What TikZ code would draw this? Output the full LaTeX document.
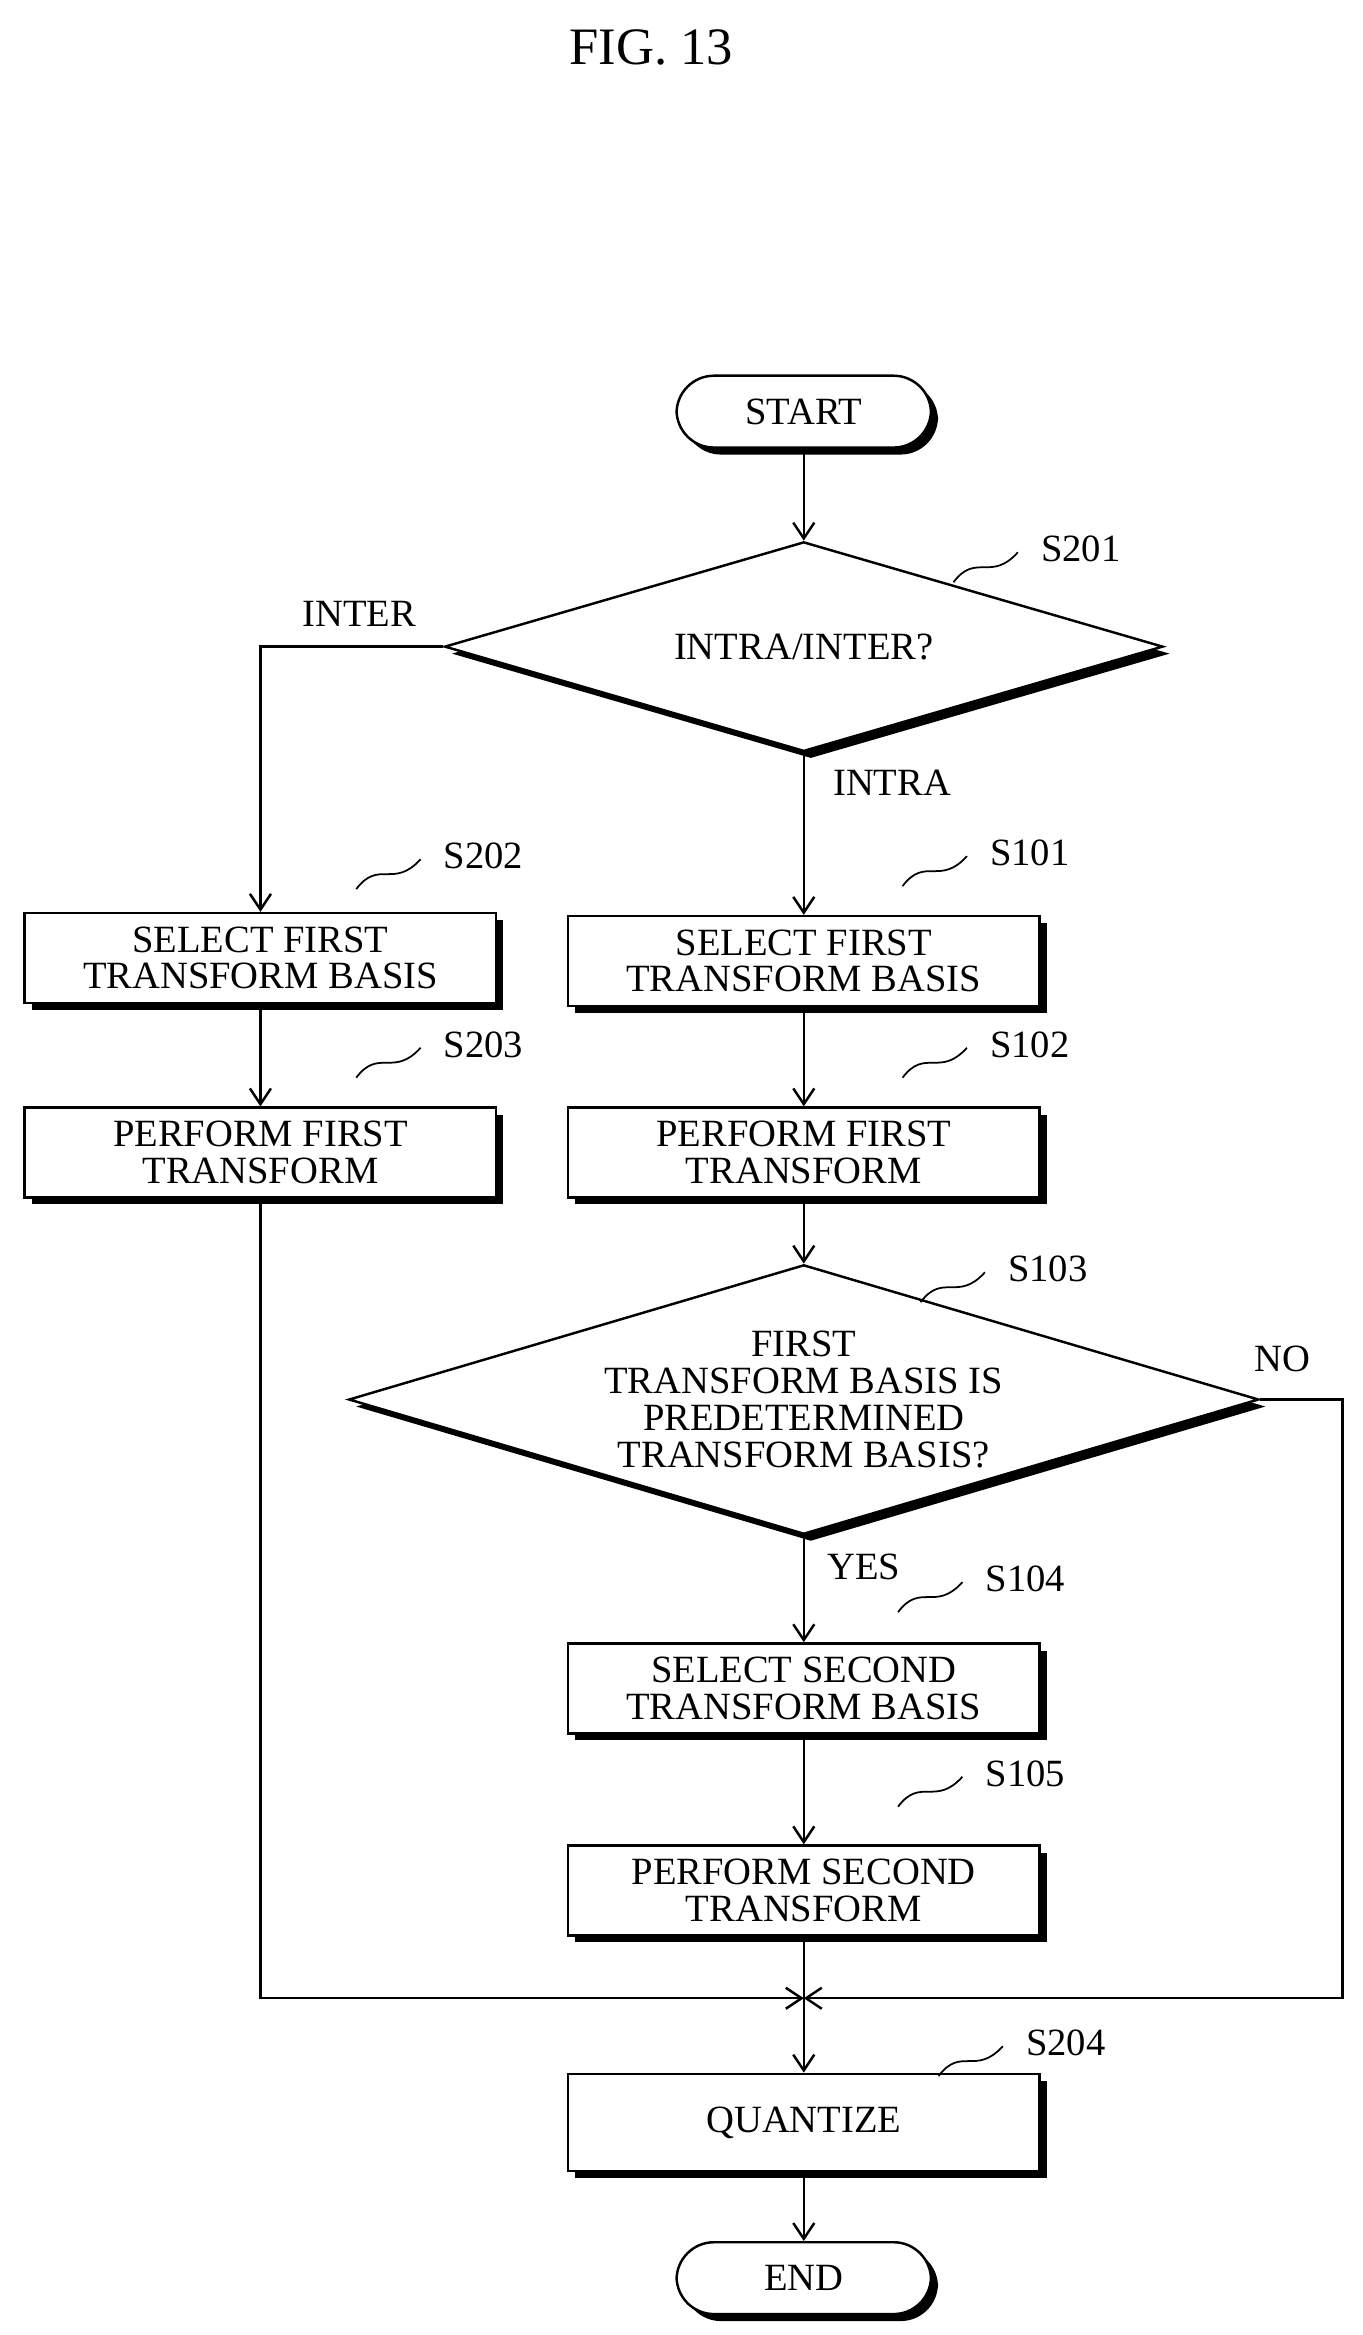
\documentclass[tikz,border=0pt]{standalone}
\usepackage{fontspec}
\setmainfont{Liberation Serif}
\usetikzlibrary{shapes.geometric,shadows,arrows.meta}

\begin{document}
\begin{tikzpicture}[x=0.03cm,y=-0.03cm,line width=1.4pt,
    font=\fontsize{22}{21}\selectfont,
    >={Straight Barb[length=9pt,width=12pt]}]
    % Define styles
    \tikzset{
      shade/.style={drop shadow={fill=black,opacity=1,shadow xshift=4pt,shadow yshift=-4pt}},
      box/.style={draw,fill=white,shade,minimum width=315*0.03cm,minimum height=60*0.03cm,align=center,inner sep=1pt},
      term/.style={draw,fill=white,shade,rounded corners=25*0.03cm,minimum width=170*0.03cm,minimum height=48*0.03cm},
      dec/.style={draw,fill=white,shade,diamond,aspect=#1,inner sep=0pt,align=center},
      tag/.style={line width=1pt},
      arr/.style={->}
    }

    \useasboundingbox (0,0) rectangle (910,1560);
    \node[font=\fontsize{30}{30}\selectfont] (title) at (435,32) {FIG. 13};

    % Nodes
    \node[term] (start) at (537,275) {START};
    \node[dec=3.43,minimum width=480*0.03cm,minimum height=140*0.03cm] (s201) at (537,432) {INTRA/INTER?};
    \node[box] (s202) at (174,640) {SELECT FIRST\\TRANSFORM BASIS};
    \node[box] (s203) at (174,770) {PERFORM FIRST\\TRANSFORM};
    \node[box] (s101) at (537,642) {SELECT FIRST\\TRANSFORM BASIS};
    \node[box] (s102) at (537,770) {PERFORM FIRST\\TRANSFORM};
    \node[dec=3.38,minimum width=608*0.03cm,minimum height=180*0.03cm] (s103) at (537,935)
        {FIRST\\TRANSFORM BASIS IS\\PREDETERMINED\\TRANSFORM BASIS?};
    \node[box] (s104) at (537,1128) {SELECT SECOND\\TRANSFORM BASIS};
    \node[box] (s105) at (537,1263) {PERFORM SECOND\\TRANSFORM};
    \coordinate (join) at (537,1335);
    \node[box,minimum height=65*0.03cm] (s204) at (537,1418) {QUANTIZE};
    \node[term] (end) at (537,1522) {END};

    % Connectors
    \draw[arr] (start) -- (s201);
    \draw[arr] (s201.west) -| (s202.north);
    \draw[arr] (s201.south) -- (s101);
    \draw[arr] (s202) -- (s203);
    \draw[arr] (s101) -- (s102);
    \draw[arr] (s102) -- (s103);
    \draw[arr] (s103.south) -- (s104);
    \draw[arr] (s104) -- (s105);
    \draw[arr] (s203.south) |- (join);
    \draw[arr] (s103.east) -- ++(55,0) |- (join);
    \draw (s105.south) -- (join);
    \draw[arr] (join) -- (s204);
    \draw[arr] (s204) -- (end);

    % Branch labels
    \node (inter) at (240,410) {INTER};
    \node (intra) at (596,523) {INTRA};
    \node (no) at (857,908) {NO};
    \node (yes) at (577,1047) {YES};

    % Step labels
    \foreach \n/\x/\y in {S201/722/367,S202/323/572,S203/323/698,S101/688/570,S102/688/698,
                          S103/700/848,S104/685/1055,S105/685/1185,S204/712/1365}
    {
        \node (t\n) at (\x,\y) {\n};
        \draw[tag] (\x-85,\y+22) .. controls (\x-70,\y+2) and (\x-60,\y+22) .. (\x-42,\y+2);
    }
\end{tikzpicture}
\end{document}
